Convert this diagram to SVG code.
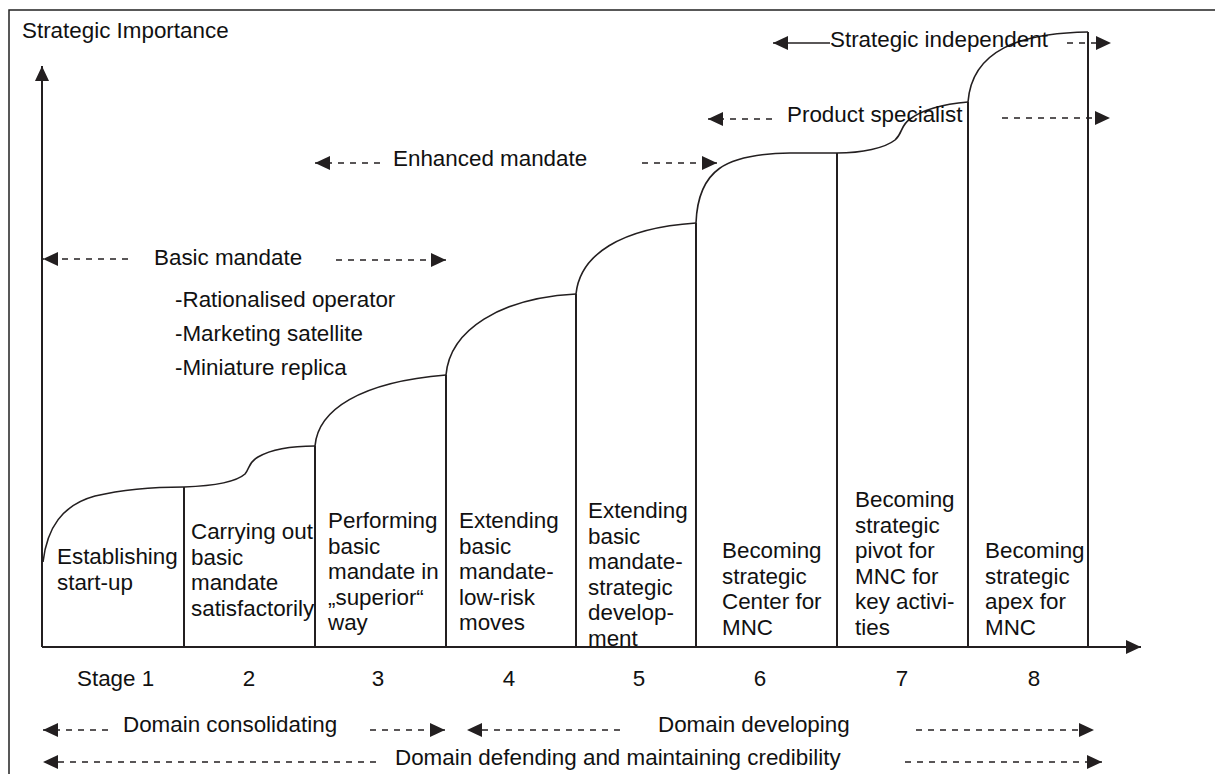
<svg xmlns="http://www.w3.org/2000/svg" width="1215" height="774" viewBox="0 0 1215 774">
<defs>
<style>
text{font-family:"Liberation Sans",Arial,sans-serif;font-size:22.4px;fill:#111}
.ax{stroke:#231f20;stroke-width:2;fill:none}
.dv{stroke:#231f20;stroke-width:2}
.cv{stroke:#231f20;stroke-width:1.6;fill:none}
.da{stroke:#231f20;stroke-width:1.6;stroke-dasharray:6 6;fill:none;marker-end:url(#ah)}
.so{stroke:#231f20;stroke-width:1.6;fill:none;marker-end:url(#ah)}
</style>
<marker id="ah" markerUnits="userSpaceOnUse" markerWidth="16" markerHeight="16" viewBox="0 0 16 16" refX="15" refY="8" orient="auto">
<path d="M0,1 L15,8 L0,15 z" fill="#231f20"/>
</marker>
</defs>
<rect x="9" y="10" width="1220" height="780" fill="#fff" stroke="#222" stroke-width="1.5"/>

<g id="axes">
<line class="ax" x1="42" y1="647" x2="42" y2="66" style="marker-end:url(#ah)"/>
<line class="ax" x1="42" y1="647" x2="1141" y2="647" style="marker-end:url(#ah)"/>
<text x="22" y="38">Strategic Importance</text>
</g>

<g id="curve">
<path class="cv" d="M43,562 C47,528 62,505 95,496 C125,489 160,487 184,487"/>
<path class="cv" d="M184,487 C210,486 235,483 245,474 C250,468 248,463 258,457 C272,449 292,446 315,446"/>
<path class="cv" d="M315,446 C318,410 360,382 446,375"/>
<path class="cv" d="M446,375 C450,330 500,298 576,294"/>
<path class="cv" d="M576,294 C580,255 620,228 696,223"/>
<path class="cv" d="M696,223 C698,170 725,154 790,153 L837,153"/>
<path class="cv" d="M837,153 C862,153 885,148 895,140 C903,133 900,126 910,119 C925,108 945,104 968,102"/>
<path class="cv" d="M968,102 C972,50 1020,33 1088,32"/>
</g>

<g id="dividers">
<line class="dv" x1="184" y1="487" x2="184" y2="647"/>
<line class="dv" x1="315" y1="446" x2="315" y2="647"/>
<line class="dv" x1="446" y1="375" x2="446" y2="647"/>
<line class="dv" x1="576" y1="294" x2="576" y2="647"/>
<line class="dv" x1="696" y1="223" x2="696" y2="647"/>
<line class="dv" x1="837" y1="153" x2="837" y2="647"/>
<line class="dv" x1="968" y1="102" x2="968" y2="647"/>
<line class="dv" x1="1088" y1="32" x2="1088" y2="647"/>
</g>

<g id="stage1"><text x="57" y="564">Establishing</text><text x="57" y="590">start-up</text><text x="77" y="686">Stage 1</text></g>
<g id="stage2"><text x="191" y="539">Carrying out</text><text x="191" y="564.5">basic</text><text x="191" y="590">mandate</text><text x="191" y="615.5">satisfactorily</text><text x="249" y="686" text-anchor="middle">2</text></g>
<g id="stage3"><text x="328" y="528">Performing</text><text x="328" y="553.5">basic</text><text x="328" y="579">mandate in</text><text x="328" y="604.5">„superior“</text><text x="328" y="630">way</text><text x="378" y="686" text-anchor="middle">3</text></g>
<g id="stage4"><text x="459" y="528">Extending</text><text x="459" y="553.5">basic</text><text x="459" y="579">mandate-</text><text x="459" y="604.5">low-risk</text><text x="459" y="630">moves</text><text x="509" y="686" text-anchor="middle">4</text></g>
<g id="stage5"><text x="588" y="518">Extending</text><text x="588" y="543.5">basic</text><text x="588" y="569">mandate-</text><text x="588" y="594.5">strategic</text><text x="588" y="620">develop-</text><text x="588" y="645.5">ment</text><text x="639" y="686" text-anchor="middle">5</text></g>
<g id="stage6"><text x="722" y="558">Becoming</text><text x="722" y="583.5">strategic</text><text x="722" y="609">Center for</text><text x="722" y="634.5">MNC</text><text x="760" y="686" text-anchor="middle">6</text></g>
<g id="stage7"><text x="855" y="507">Becoming</text><text x="855" y="532.5">strategic</text><text x="855" y="558">pivot for</text><text x="855" y="583.5">MNC for</text><text x="855" y="609">key activi-</text><text x="855" y="634.5">ties</text><text x="902" y="686" text-anchor="middle">7</text></g>
<g id="stage8"><text x="985" y="558">Becoming</text><text x="985" y="583.5">strategic</text><text x="985" y="609">apex for</text><text x="985" y="634.5">MNC</text><text x="1034" y="686" text-anchor="middle">8</text></g>

<g id="mandates">
<text x="154" y="265">Basic mandate</text>
<text x="175" y="307">-Rationalised operator</text>
<text x="175" y="341">-Marketing satellite</text>
<text x="175" y="375">-Miniature replica</text>
<text x="393" y="166">Enhanced mandate</text>
<text x="787" y="122">Product specialist</text>
<text x="830" y="47">Strategic independent</text>
<text x="123" y="732">Domain consolidating</text>
<text x="658" y="732">Domain developing</text>
<text x="395" y="765">Domain defending and maintaining credibility</text>
</g>

<g id="connectors">
<line class="da" x1="128" y1="259" x2="43" y2="259"/>
<line class="da" x1="336" y1="260" x2="446" y2="260"/>
<line class="da" x1="380" y1="163" x2="315" y2="163"/>
<line class="da" x1="642" y1="163" x2="717" y2="163"/>
<line class="da" x1="772" y1="119" x2="708" y2="119"/>
<line class="da" x1="1002" y1="118" x2="1110" y2="118"/>
<line class="so" x1="830" y1="43" x2="773" y2="43"/>
<line class="da" x1="1067" y1="43" x2="1111" y2="43"/>
<line class="da" x1="108" y1="730" x2="43" y2="730"/>
<line class="da" x1="370" y1="730" x2="445" y2="730"/>
<line class="da" x1="620" y1="730" x2="467" y2="730"/>
<line class="da" x1="916" y1="730" x2="1094" y2="730"/>
<line class="da" x1="376" y1="762" x2="43" y2="762"/>
<line class="da" x1="905" y1="762" x2="1102" y2="762"/>
</g>
</svg>
